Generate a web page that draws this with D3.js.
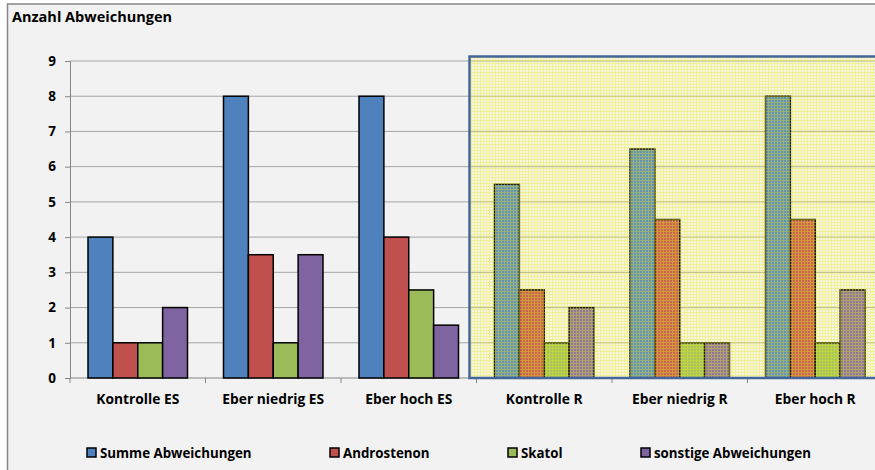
<!DOCTYPE html>
<meta charset="utf-8">
<style>
  body { margin: 0; background: #fff; }
  text { font-family: "Open Sans", Lato, sans-serif; font-weight: bold; fill: #000; }
  .grid line { stroke: #a6a6a6; stroke-width: 1px; }
</style>
<svg width="875" height="470"></svg>
<script src="https://cdnjs.cloudflare.com/ajax/libs/d3/7.8.5/d3.min.js"></script>
<script>
  var categories = ["Kontrolle ES", "Eber niedrig ES", "Eber hoch ES", "Kontrolle R", "Eber niedrig R", "Eber hoch R"]
  var seriesNames = ["Summe Abweichungen", "Androstenon", "Skatol", "sonstige Abweichungen"]
  var summe = [4, 8, 8, 5.5, 6.5, 8]
  var androstenon = [1, 3.5, 4, 2.5, 4.5, 4.5]
  var skatol = [1, 1, 2.5, 1, 1, 1]
  var sonstige = [2, 3.5, 1.5, 2, 1, 2.5]
  var yTicks = [0, 1, 2, 3, 4, 5, 6, 7, 8, 9]
  var colors = ["#4f81bd", "#c0504d", "#9bbb59", "#8064a2"]
  var legendX = [87, 330, 508, 641]

  var series = [summe, androstenon, skatol, sonstige]

  var svg = d3.select("svg")
  var plotL = 70, plotR = 883, plotT = 61, plotB = 378

  // chart area background + frame
  svg.append("rect").attr("x", 7.5).attr("y", 4).attr("width", 900).attr("height", 500)
    .attr("fill", "#f2f2f2").attr("stroke", "#878787").attr("stroke-width", 1.5)

  svg.append("text").attr("x", 12).attr("y", 22).style("font-size", "14.5px").text("Anzahl Abweichungen")

  var x0 = d3.scaleBand().domain(categories).range([plotL, plotR])
  var x1 = d3.scaleBand().domain(d3.range(series.length)).range([18, x0.bandwidth() - 18])
  var y = d3.scaleLinear().domain([0, 9]).range([plotB, plotT])

  // gridlines
  svg.append("g").attr("class", "grid").selectAll("line").data(yTicks.slice(1)).join("line")
    .attr("x1", plotL).attr("x2", plotR).attr("y1", d => y(d)).attr("y2", d => y(d))

  // y axis
  var yAxis = d3.axisLeft(y).tickValues(yTicks).tickSize(5).tickPadding(9)
  var gy = svg.append("g").attr("transform", "translate(" + plotL + ",0)").call(yAxis)
  gy.select(".domain").attr("stroke", "#868686")
  gy.selectAll(".tick line").attr("stroke", "#868686")
  gy.selectAll("text").style("font-size", "13.5px").style("font-family", "'Open Sans', sans-serif").style("font-weight", "bold")

  // x axis
  var gx = svg.append("g").attr("transform", "translate(0," + plotB + ")")
  gx.append("line").attr("x1", plotL).attr("x2", plotR).attr("stroke", "#868686")
  gx.selectAll(".tk").data(d3.range(categories.length + 1)).join("line")
    .attr("x1", d => plotL + d * x0.bandwidth()).attr("x2", d => plotL + d * x0.bandwidth())
    .attr("y1", 0).attr("y2", 5).attr("stroke", "#868686")
  gx.selectAll("text").data(categories).join("text")
    .attr("x", d => x0(d) + x0.bandwidth() / 2).attr("y", 25.5)
    .attr("text-anchor", "middle").style("font-size", "13.8px").text(d => d)

  // bars
  var groups = svg.append("g").selectAll("g").data(categories).join("g")
    .attr("transform", d => "translate(" + x0(d) + ",0)")
  groups.selectAll("rect").data((c, i) => series.map((s, k) => ({ k: k, v: s[i] }))).join("rect")
    .attr("x", d => x1(d.k)).attr("width", x1.bandwidth())
    .attr("y", d => y(d.v)).attr("height", d => y(0) - y(d.v))
    .attr("fill", d => colors[d.k]).attr("stroke", "#000").attr("stroke-width", 1.5)

  // yellow plaid highlight over the R groups
  var defs = svg.append("defs")
  var pat = defs.append("pattern").attr("id", "plaid").attr("width", 3).attr("height", 3)
    .attr("patternUnits", "userSpaceOnUse")
  pat.append("path").attr("d", "M0,0h3v1h-2v2h-1z").attr("fill", "#f0f020").attr("fill-opacity", 0.45)
  pat.append("rect").attr("x", 1).attr("y", 1).attr("width", 2).attr("height", 2)
    .attr("fill", "#ffffa0").attr("fill-opacity", 0.12)
  svg.append("rect")
    .attr("x", x0("Kontrolle R") - 7).attr("y", y(9) - 4.5)
    .attr("width", 500).attr("height", y(0) - y(9) + 4.5)
    .attr("fill", "url(#plaid)").attr("stroke", "#43659a").attr("stroke-width", 2.5)

  // legend
  var lg = svg.append("g").selectAll("g").data(seriesNames).join("g")
    .attr("transform", (d, i) => "translate(" + legendX[i] + ",448)")
  lg.append("rect").attr("width", 9).attr("height", 9)
    .attr("fill", (d, i) => colors[i]).attr("stroke", "#000").attr("stroke-width", 1.5)
  lg.append("text").attr("x", 13).attr("y", 10).style("font-size", "13.3px").text(d => d)
</script>
